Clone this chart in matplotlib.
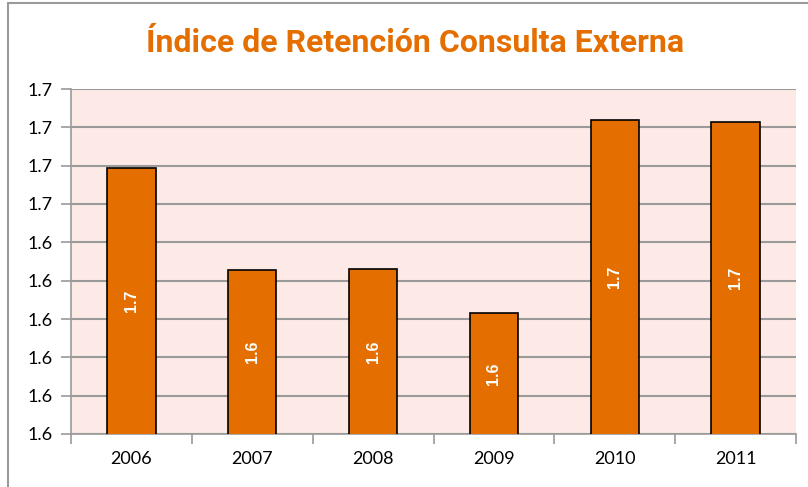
import matplotlib
import matplotlib.pyplot as plt
from matplotlib.patches import Rectangle

matplotlib.use("Agg")

years = ["2006", "2007", "2008", "2009", "2010", "2011"]
indice = [1.6694, 1.6428, 1.6430, 1.6316, 1.6819, 1.6814]
y_ticks = [1.60, 1.61, 1.62, 1.63, 1.64, 1.65, 1.66, 1.67, 1.68, 1.69]

orange = "#E46F00"
pink = "#FDEAE7"
grid_gray = "#9A9A9A"

plt.rcParams["font.family"] = ["Lato", "DejaVu Sans"]

fig = plt.figure(figsize=(8.08, 4.87), dpi=100)
fig.patches.append(
	Rectangle((8 / 808, -0.1), 1.2, (487 - 3) / 487 + 0.1, transform=fig.transFigure,
			  fill=False, edgecolor="#9A9A9A", linewidth=1.5)
)

ax = fig.add_axes([71 / 808, 53 / 487, 725 / 808, 345 / 487])
ax.set_facecolor(pink)

x = list(range(len(years)))
bars = ax.bar(x, indice, width=0.4, color=orange, edgecolor="black", linewidth=1.2, zorder=3)

for xi, val in zip(x, indice):
	ax.text(xi, (val + 1.60) / 2, f"{val:.1f}", rotation=90, ha="center", va="center",
			color="white", fontsize=11.5, fontweight="bold", family=["Liberation Sans", "DejaVu Sans"],
			zorder=4)

ax.set_xlim(-0.5, len(years) - 0.5)
ax.set_ylim(1.60, 1.69)
ax.set_yticks(y_ticks)
ax.set_yticklabels([f"{v:.1f}" for v in y_ticks])
ax.set_xticks(x)
ax.set_xticklabels(years)
ax.set_xticks([i - 0.5 for i in range(len(years) + 1)], minor=True)

ax.tick_params(axis="y", length=7, width=1.2, color=grid_gray, labelsize=13, pad=6)
ax.tick_params(axis="x", which="major", length=0, labelsize=13, pad=12)
ax.tick_params(axis="x", which="minor", length=7, width=1.2, color=grid_gray)

ax.grid(axis="y", color=grid_gray, linewidth=1.5, zorder=1)
for side in ["top", "right"]:
	ax.spines[side].set_visible(False)
for side in ["left", "bottom"]:
	ax.spines[side].set_color(grid_gray)
	ax.spines[side].set_linewidth(1.2)

fig.text(415 / 808, 1 - 43 / 487, "Índice de Retención Consulta Externa", ha="center", va="center",
		 color=orange, fontsize=23, fontweight="bold",
		 family=["Roboto", "DejaVu Sans"])

plt.savefig("out.png", dpi=100)
plt.close()
